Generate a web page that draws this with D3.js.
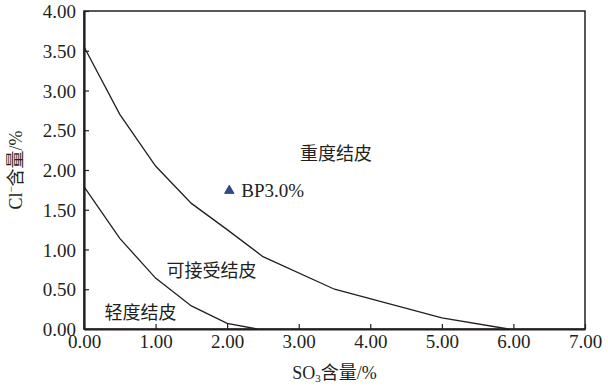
<!DOCTYPE html>
<html>
<head>
<meta charset="utf-8">
<script src="https://cdn.jsdelivr.net/npm/d3@7"></script>
<style>
  body { margin: 0; background: #fff; }
  svg text { font-family: "Liberation Serif", "Noto Sans CJK SC", serif; fill: #231f20; }
</style>
</head>
<body>
<svg id="chart" width="608" height="386"></svg>
<script>
// boundary between heavy and acceptable crusting
const upperX = [0, 0.5, 1.0, 1.5, 2.0, 2.5, 3.5, 5.0, 5.93]
const upperY = [3.55, 2.70, 2.05, 1.58, 1.25, 0.91, 0.50, 0.14, 0]
// boundary between light and acceptable crusting
const lowerX = [0, 0.5, 1.0, 1.5, 2.0, 2.42]
const lowerY = [1.79, 1.14, 0.64, 0.29, 0.07, 0]
// sample point
const sample = { name: 'BP3.0%', x: 2.03, y: 1.74 }
// region labels
const zones = [
  { text: '重度结皮', x: 3.52, y: 2.20 },
  { text: '可接受结皮', x: 1.78, y: 0.73 },
  { text: '轻度结皮', x: 0.79, y: 0.20 }
]
const xTicks = [0, 1, 2, 3, 4, 5, 6, 7]
const yTicks = [0, 0.5, 1, 1.5, 2, 2.5, 3, 3.5, 4]

const margin = { top: 11, left: 84, right: 23, bottom: 57 }
const width = 608 - margin.left - margin.right
const height = 386 - margin.top - margin.bottom

const svg = d3.select('#chart')
const g = svg.append('g').attr('transform', `translate(${margin.left},${margin.top})`)

const x = d3.scaleLinear().domain([0, 7]).range([0, width])
const y = d3.scaleLinear().domain([0, 4]).range([height, 0])

//frame
g.append('rect')
  .attr('width', width).attr('height', height)
  .attr('fill', 'none').attr('stroke', '#231f20').attr('stroke-width', 1.5)

//axes with inward ticks
const xAxis = d3.axisBottom(x).tickValues(xTicks).tickFormat(d3.format('.2f'))
  .tickSizeInner(-5).tickSizeOuter(0).tickPadding(8)
const yAxis = d3.axisLeft(y).tickValues(yTicks).tickFormat(d3.format('.2f'))
  .tickSizeInner(-5).tickSizeOuter(0).tickPadding(8)

const xg = g.append('g').attr('transform', `translate(0,${height})`).call(xAxis)
const yg = g.append('g').call(yAxis)
;[xg, yg].forEach(a => {
  a.select('.domain').attr('stroke', '#231f20').attr('stroke-width', 2.2)
  a.selectAll('.tick line').attr('stroke', '#231f20').attr('stroke-width', 1.2)
  a.selectAll('.tick text').attr('font-size', 19).attr('fill', '#231f20')
    .style('font-family', '"Liberation Serif", serif')
})
xg.selectAll('.tick text').attr('dy', '0.6em')
yg.selectAll('.tick text').attr('dy', '0.35em')

//lines
const line = d3.line().x(d => x(d[0])).y(d => y(d[1]))
;[[upperX, upperY], [lowerX, lowerY]].forEach(([xs, ys]) => {
  g.append('path')
    .datum(xs.map((v, i) => [v, ys[i]]))
    .attr('d', line)
    .attr('fill', 'none')
    .attr('stroke', '#231f20')
    .attr('stroke-width', 1.3)
})

//sample marker
g.append('path')
  .attr('d', d3.symbol().type(d3.symbolTriangle).size(40))
  .attr('transform', `translate(${x(sample.x)},${y(sample.y)})`)
  .attr('fill', '#2b4a9b').attr('stroke', '#231f20').attr('stroke-width', 0.6)
g.append('text')
  .attr('x', x(sample.x) + 12).attr('y', y(sample.y))
  .attr('dy', '0.35em').attr('font-size', 19)
  .text(sample.name)

//zone labels
g.selectAll('.zone').data(zones).enter().append('text')
  .attr('class', 'zone')
  .attr('x', d => x(d.x)).attr('y', d => y(d.y))
  .attr('text-anchor', 'middle').attr('dy', '0.35em')
  .attr('font-size', 18)
  .style('font-family', '"Noto Sans CJK SC", sans-serif')
  .text(d => d.text)

//axis titles
const xt = svg.append('text')
  .attr('x', margin.left + width / 2).attr('y', 379)
  .attr('text-anchor', 'middle').attr('font-size', 18)
xt.append('tspan').text('SO')
xt.append('tspan').attr('font-size', 11).attr('dy', 3).text('3')
xt.append('tspan').attr('dy', -3).style('font-family', '"Noto Sans CJK SC", sans-serif').text('含量')
xt.append('tspan').text('/%')

const yt = svg.append('text')
  .attr('transform', `translate(22,${margin.top + height / 2}) rotate(-90)`)
  .attr('text-anchor', 'middle').attr('font-size', 18)
yt.append('tspan').text('Cl')
yt.append('tspan').attr('font-size', 11).attr('dy', -7).text('−')
yt.append('tspan').attr('dy', 7).style('font-family', '"Noto Sans CJK SC", sans-serif').text('含量')
yt.append('tspan').text('/%')
</script>
</body>
</html>
